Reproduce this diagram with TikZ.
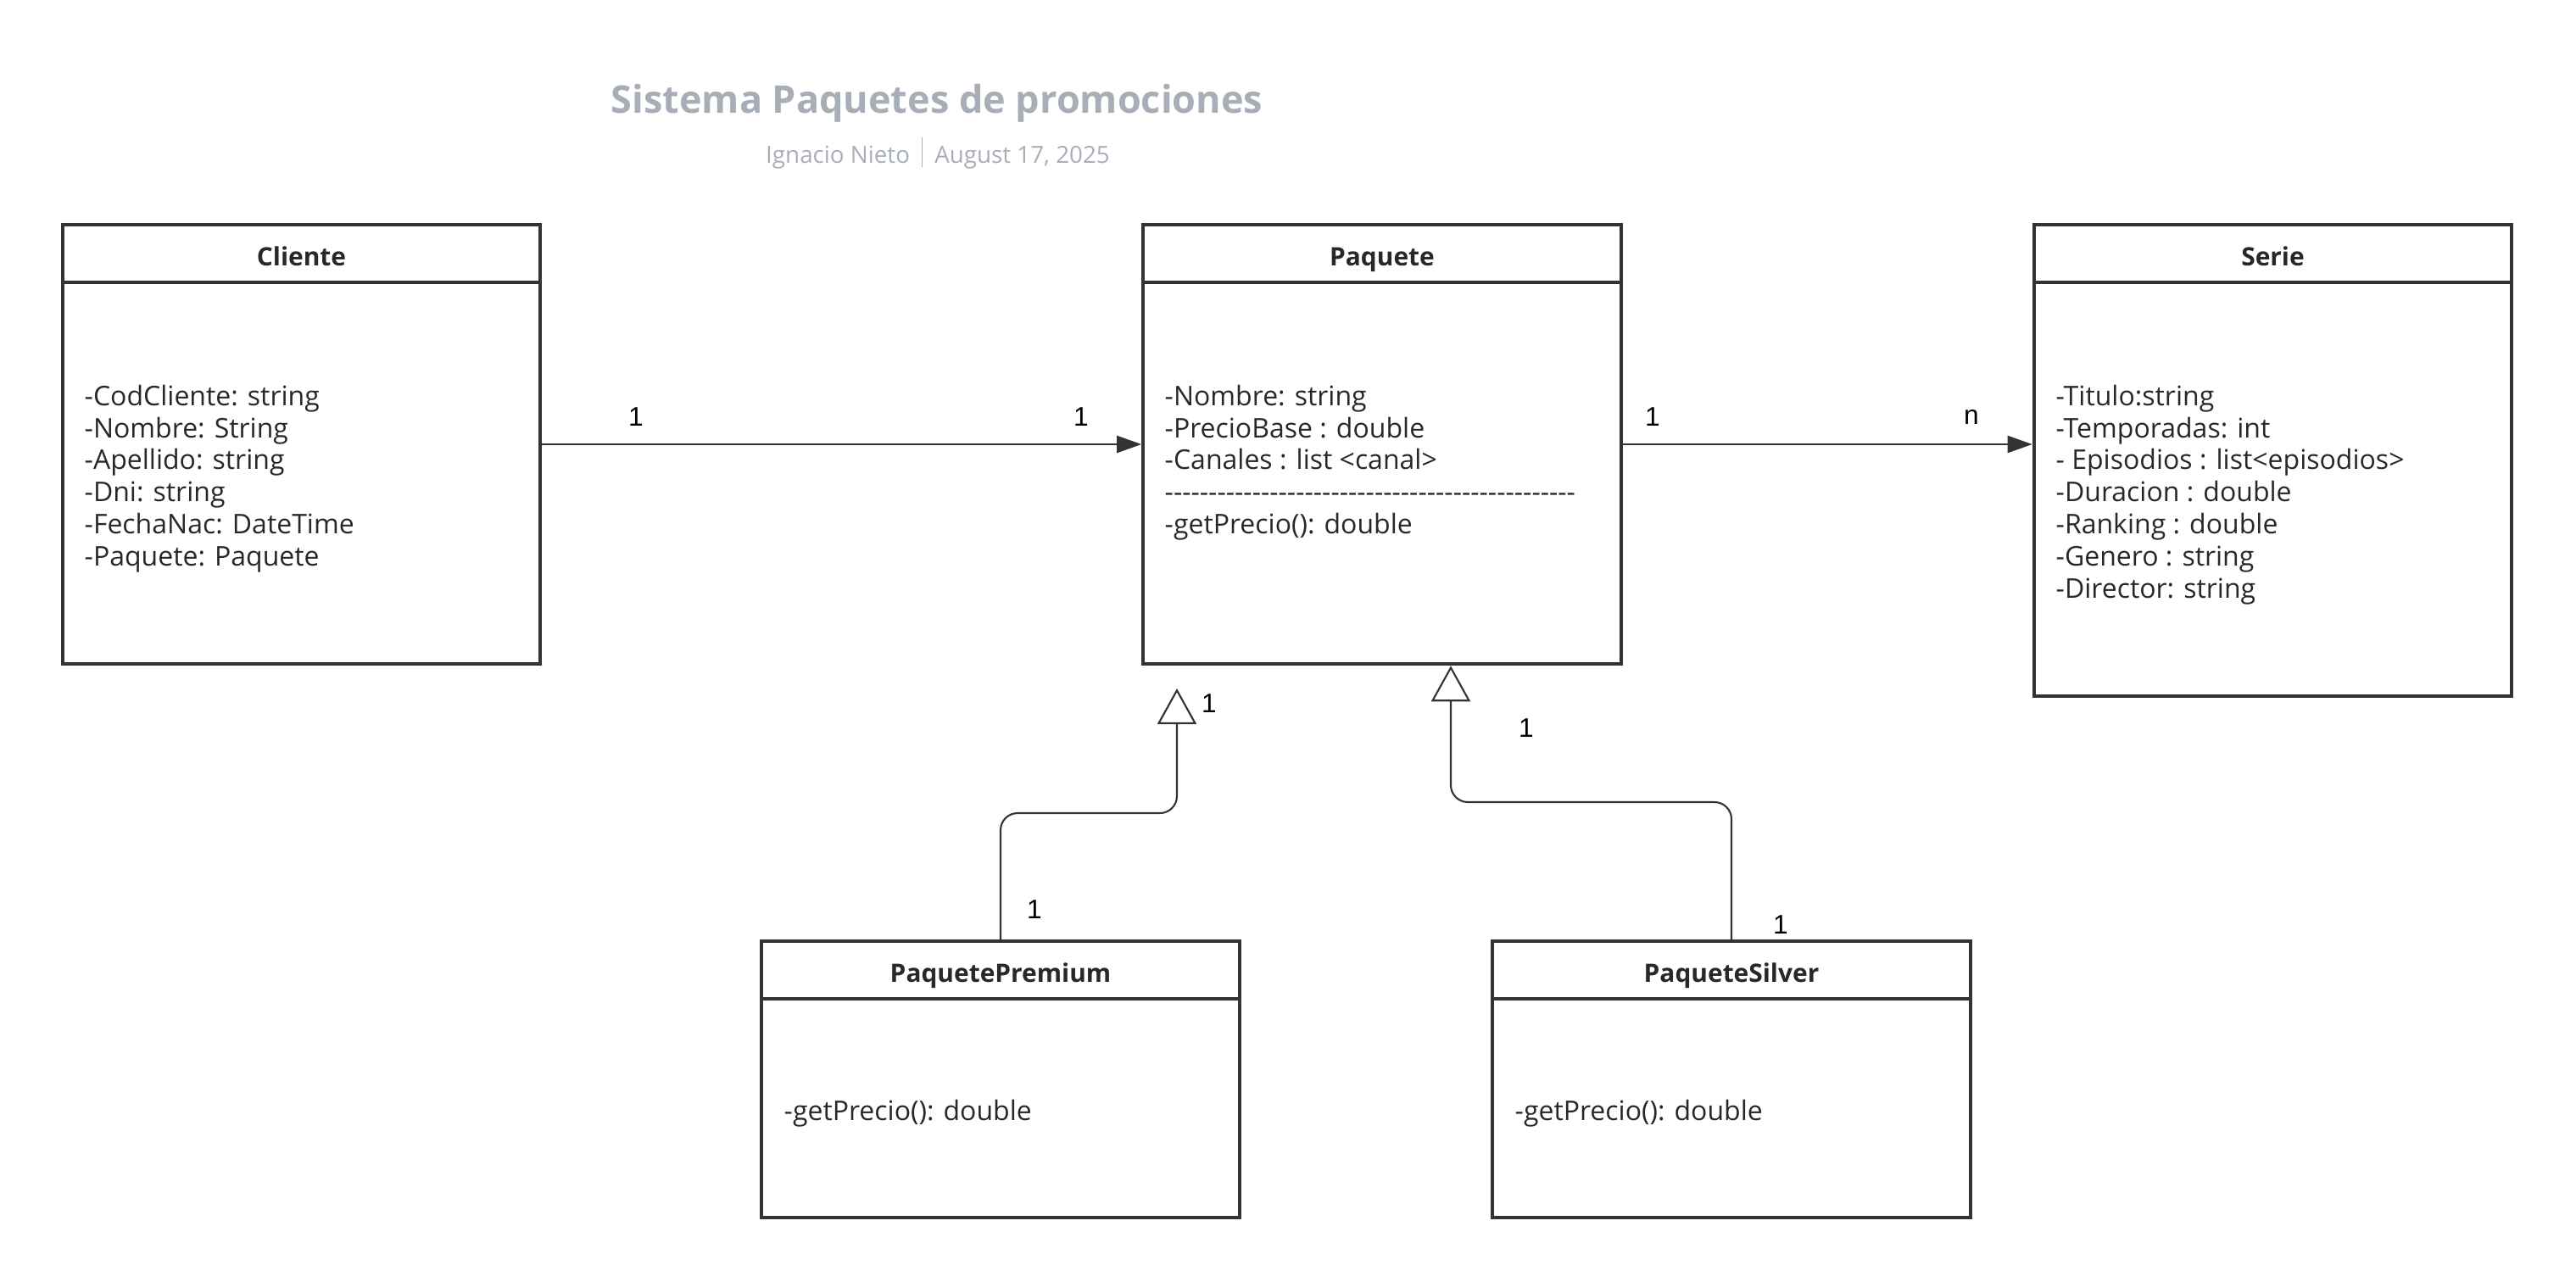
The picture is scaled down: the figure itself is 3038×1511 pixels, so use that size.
\documentclass[tikz,border=0pt]{standalone}
\usepackage{fontspec}
\setmainfont{Open Sans}
\newfontfamily\multfont{Liberation Sans}
\usetikzlibrary{arrows.meta}
\definecolor{boxline}{RGB}{51,51,51}
\definecolor{textdark}{RGB}{40,40,40}
\definecolor{titlegray}{RGB}{168,174,183}
\newcommand{\dashrow}{\foreach \k in {1,...,47}{-\kern0pt}}

\begin{document}
\begin{tikzpicture}[x=0.01cm, y=-0.01cm, font=\fontsize{9.1}{10.8}\selectfont,
  classbox/.style={draw=boxline, line width=1.2pt, inner sep=0pt, minimum width=5.63cm},
  classhead/.style={classbox, minimum height=0.68cm, text=textdark,
    text height=0.89em, text depth=0.05em, font=\fontsize{8.5}{10}\selectfont\bfseries},
  attrs/.style={anchor=north west, align=left, inner sep=0pt, text=textdark},
  mult/.style={font=\multfont\fontsize{9}{10}\selectfont, text=black},
  assoc/.style={draw=boxline, line width=0.6pt, -{Triangle[length=0.29cm, width=0.2cm]}},
  inherit/.style={draw=boxline, line width=0.6pt, rounded corners=0.2cm,
    -{Triangle[open, length=0.42cm, width=0.46cm]}}]

  \useasboundingbox (0,0) rectangle (3038,1511);

  % --- Title ---
  \node[text=titlegray, font=\fontsize{12.8}{15}\selectfont\bfseries] (title) at (1105,122)
    {Sistema Paquetes de promociones};
  \node[text=titlegray, font=\fontsize{7.9}{9}\selectfont] (subtitle) at (1106,181)
    {Ignacio Nieto\enspace\rule[-0.25ex]{0.4pt}{2.3ex}\enspace August 17, 2025};

  % --- Cliente ---
  \node[classbox, minimum height=5.18cm] (cliente) at (355.5,524) {};
  \node[classhead, anchor=north] (clienteHead) at (cliente.north) {Cliente};
  \node[attrs] (clienteAttrs) at (99,453) {-CodCliente: string\\-Nombre: String\\-Apellido: string\\
    -Dni: string\\-FechaNac: DateTime\\-Paquete: Paquete};

  % --- Paquete ---
  \node[classbox, minimum height=5.18cm] (paquete) at (1630,524) {};
  \node[classhead, anchor=north] (paqueteHead) at (paquete.north) {Paquete};
  \node[attrs] (paqueteAttrs) at (1373,453) {-Nombre: string\\-PrecioBase : double\\
    -Canales : list <canal>\\\dashrow\\-getPrecio(): double};

  % --- Serie ---
  \node[classbox, minimum height=5.56cm] (serie) at (2680.5,543) {};
  \node[classhead, anchor=north] (serieHead) at (serie.north) {Serie};
  \node[attrs] (serieAttrs) at (2424,453) {-Titulo:string\\-Temporadas: int\\
    - Episodios : list<episodios>\\-Duracion : double\\-Ranking : double\\
    -Genero : string\\-Director: string};

  % --- PaquetePremium ---
  \node[classbox, minimum height=3.26cm] (premium) at (1180,1273) {};
  \node[classhead, anchor=north] (premiumHead) at (premium.north) {PaquetePremium};
  \node[attrs] (premiumAttrs) at (924,1296) {-getPrecio(): double};

  % --- PaqueteSilver ---
  \node[classbox, minimum height=3.26cm] (silver) at (2042,1273) {};
  \node[classhead, anchor=north] (silverHead) at (silver.north) {PaqueteSilver};
  \node[attrs] (silverAttrs) at (1786,1296) {-getPrecio(): double};

  % --- Associations ---
  \draw[assoc] (cliente.east) -- (paquete.west);
  \draw[assoc] (paquete.east) -- (paquete.east -| serie.west);
  \node[mult] (multClienteA) at (750,492) {1};
  \node[mult] (multClienteB) at (1275,492) {1};
  \node[mult] (multSerieA) at (1949,492) {1};
  \node[mult] (multSerieB) at (2325,492) {n};

  % --- Inheritance ---
  \coordinate (premiumBend) at (1388,959);
  \coordinate (premiumTip) at (1388,812);
  \draw[inherit] (premium.north) |- (premiumBend) -- (premiumTip);
  \coordinate (silverBend) at (1711,946);
  \draw[inherit] (silver.north) |- (silverBend) -- (silverBend |- paquete.south);
  \node[mult] (multPremiumA) at (1426,830) {1};
  \node[mult] (multPremiumB) at (1220,1073) {1};
  \node[mult] (multSilverA) at (1800,859) {1};
  \node[mult] (multSilverB) at (2100,1091) {1};

\end{tikzpicture}
\end{document}
